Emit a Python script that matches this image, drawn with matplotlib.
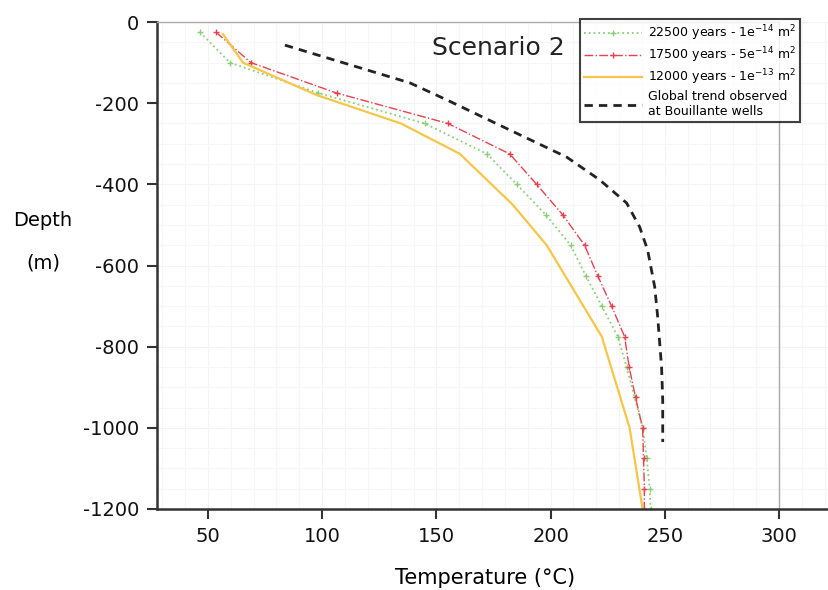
import matplotlib.pyplot as plt
from matplotlib.ticker import MultipleLocator

plt.rcParams["axes.unicode_minus"] = False

# Depths of the model profiles (m)
depths = [-25, -100, -175, -250, -325, -400, -475, -550, -625, -700,
          -775, -850, -925, -1000, -1075, -1150, -1200]

# 22500 years - 1e-14 m2
temp_22500 = [46.5, 59.6, 98.3, 144.9, 172.1, 185.2, 197.9, 208.8, 215.4, 222.4,
              229.4, 233.3, 236.8, 240.3, 242.1, 243.4, 243.8]

# 17500 years - 5e-14 m2
temp_17500 = [53.5, 68.8, 106.3, 155.0, 182.1, 193.9, 205.3, 214.9, 220.6, 226.7,
              232.4, 234.4, 237.2, 240.3, 240.7, 241.1, 241.0]

# 12000 years - 1e-13 m2
depth_12000 = [-30, -100, -180, -250, -325, -450, -550, -775, -1000, -1200]
temp_12000 = [56.6, 65.3, 97.6, 134.5, 160.3, 183.4, 198.3, 222.4, 234.6, 240.3]

# Global trend observed at Bouillante wells
depth_trend = [-57, -150, -192, -266, -333, -389, -446, -505, -562, -653,
               -727, -850, -931, -1035]
temp_trend = [83.7, 138.4, 154.6, 182.1, 207.1, 221.5, 233.3, 239.0, 242.5, 245.6,
              246.9, 248.6, 249.1, 249.1]

labels = [
    "22500 years - 1e$^{-14}$ m$^{2}$",
    "17500 years - 5e$^{-14}$ m$^{2}$",
    "12000 years - 1e$^{-13}$ m$^{2}$",
    "Global trend observed\nat Bouillante wells",
]


fig = plt.figure(figsize=(8.29, 5.90), dpi=100)
ax = fig.add_axes([0.1894, 0.1373, 0.8106, 0.8254])

ax.plot(temp_22500, depths, color="#8ccf78", linestyle=":", linewidth=1.3,
        marker="+", markersize=4, label=labels[0])
ax.plot(temp_17500, depths, color="#e8424e", linestyle="-.", linewidth=1.0,
        marker="+", markersize=4, label=labels[1])
ax.plot(temp_12000, depth_12000, color="#f7c548", linestyle="-", linewidth=1.6,
        label=labels[2])
ax.plot(temp_trend, depth_trend, color="#222222", linestyle=(0, (3, 2.2)),
        linewidth=2.0, label=labels[3])

ax.set_xlim(27.7, 321.9)
ax.set_ylim(-1200, 0)
ax.set_xticks([50, 100, 150, 200, 250, 300])
ax.set_yticks([0, -200, -400, -600, -800, -1000, -1200])

# faint background grid
ax.xaxis.set_minor_locator(MultipleLocator(10))
ax.yaxis.set_minor_locator(MultipleLocator(50))
ax.grid(which="minor", color="#f6f6f6", linewidth=0.8)
ax.grid(which="major", color="#f3f3f3", linewidth=0.8)
ax.set_axisbelow(True)
ax.tick_params(which="minor", length=0)

ax.tick_params(which="major", direction="out", length=7, width=1.5,
               color="#333333", labelsize=14, pad=6, labelcolor="#111111")

for side in ["left", "bottom"]:
    ax.spines[side].set_color("#333333")
    ax.spines[side].set_linewidth(1.8)
ax.spines["top"].set_color("#aaaaaa")
ax.spines["top"].set_linewidth(1.0)
ax.spines["top"].set_bounds(27.7, 300)
ax.spines["right"].set_position(("data", 300))
ax.spines["right"].set_color("#aaaaaa")
ax.spines["right"].set_linewidth(1.0)

ax.text(177, -64, "Scenario 2", fontsize=18, color="#222222",
        ha="center", va="center")

fig.text(0.585, 0.021, "Temperature (°C)", fontsize=15, ha="center", va="center")
fig.text(0.052, 0.627, "Depth", fontsize=14, ha="center", va="center")
fig.text(0.052, 0.554, "(m)", fontsize=14, ha="center", va="center")

leg = fig.legend(loc="upper left", bbox_to_anchor=(0.692, 0.978),
                 fontsize=9, handlelength=4.6, frameon=True, fancybox=False,
                 borderpad=0.35, labelspacing=0.2, handletextpad=0.5)
leg.get_frame().set_edgecolor("#111111")
leg.get_frame().set_linewidth(1.5)

fig.savefig("out.png", dpi=100)
